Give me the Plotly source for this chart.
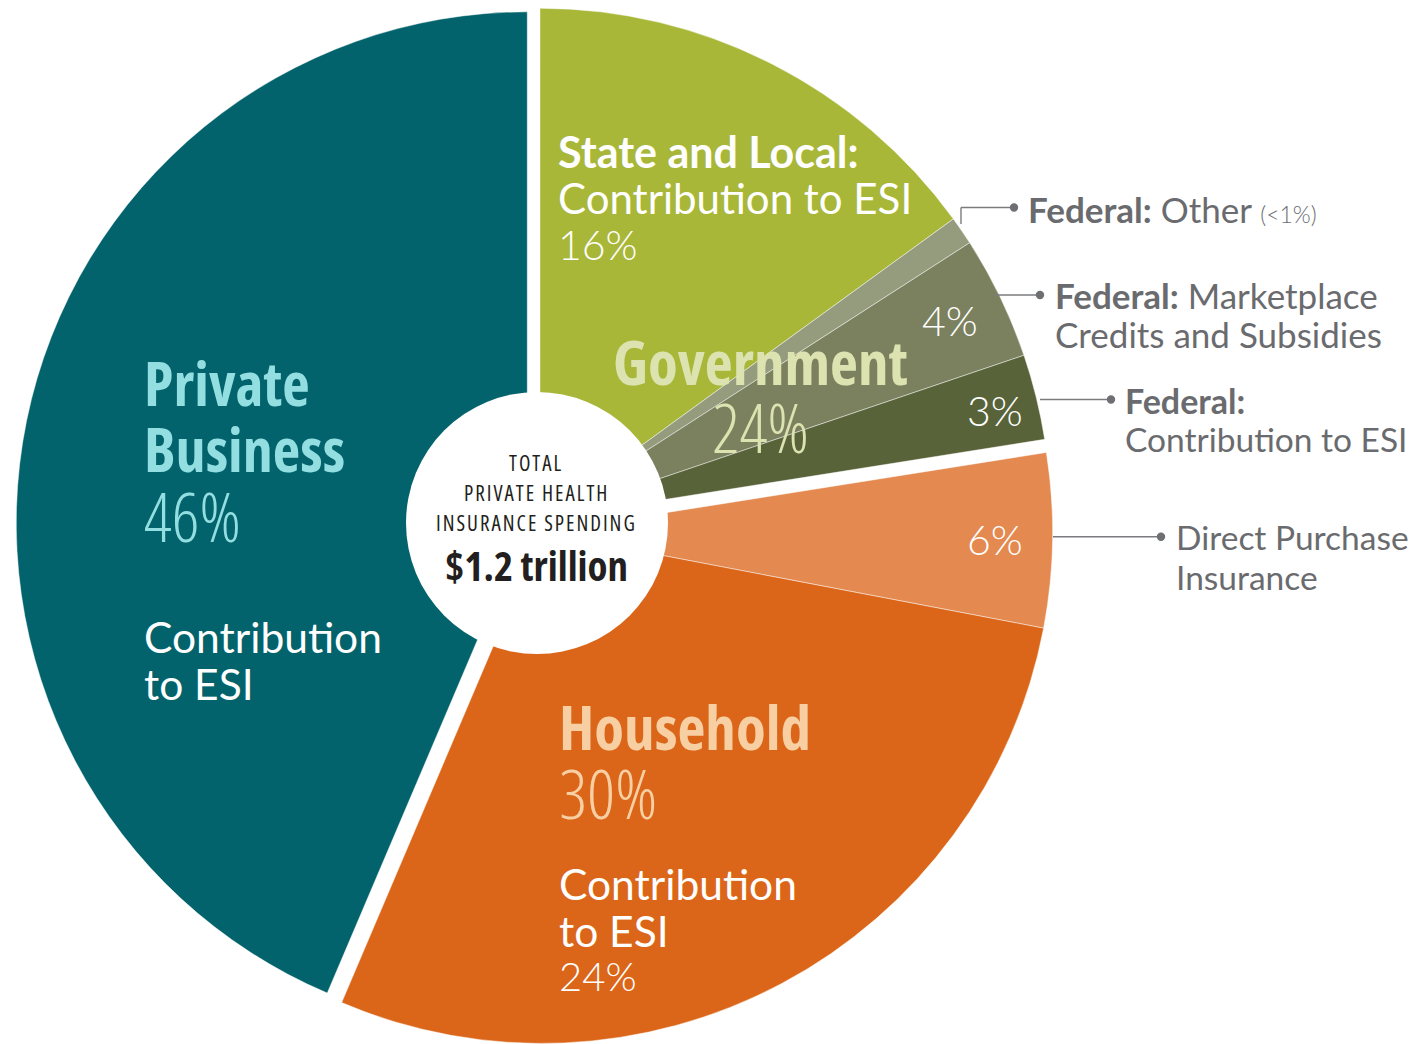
import numpy as np
import plotly.graph_objects as go

# The page body has an 8px margin, so the figure is drawn 8px in from the corner.
OFF = 8
W, H = 1420 - OFF, 1044 - OFF

# ---------------- data (slices clockwise from 12 o'clock) ----------------
slice_names = [
    "State and Local: Contribution to ESI",
    "Federal: Other",
    "Federal: Marketplace Credits and Subsidies",
    "Federal: Contribution to ESI",
    "Direct Purchase Insurance",
    "Household: Contribution to ESI",
    "Private Business: Contribution to ESI",
]
slice_groups = ["Government", "Government", "Government", "Government",
                "Household", "Household", "Private Business"]
# angular share of each wedge as drawn in the graphic
slice_share = [15.0, 0.9, 3.9, 2.7, 5.5, 28.4, 43.6]
slice_colors = ["#A9B739", "#959C7D", "#7B815F", "#58633A",
                "#E48A51", "#DB6619", "#03636C"]
slice_pct_labels = ["16%", "(<1%)", "4%", "3%", "6%", "24%", "46%"]

group_names = ["Government", "Household", "Private Business"]
group_pct_labels = ["24%", "30%", "46%"]

center_lines = ["TOTAL", "PRIVATE HEALTH", "INSURANCE SPENDING"]
center_total = "$1.2 trillion"

# ---------------- styling / geometry (reference pixel coordinates) ----------------
CX, CY, R = 535.5, 524.5, 511.0
explode = {"Government": 6.9, "Household": 10.0, "Private Business": 8.4}
CONDF = "Open Sans, Noto Sans, sans-serif"   # used with font-stretch condensed
HUMF = "Lato, Open Sans, sans-serif"
GRAY = "#6A6B6E"

fig = go.Figure()

share = np.array(slice_share, float)
cum = np.concatenate([[0.0], np.cumsum(share)]) / share.sum() * 360.0
n = len(slice_share)
for g in group_names:
    idx = [i for i in range(n) if slice_groups[i] == g]
    a0, a1 = cum[idx[0]], cum[idx[-1] + 1]
    mid = np.radians((a0 + a1) / 2)
    d = explode[g]
    px = CX + d * np.sin(mid) - OFF
    py = CY - d * np.cos(mid) - OFF
    colors = [slice_colors[i] if slice_groups[i] == g else "rgba(0,0,0,0)" for i in range(n)]
    widths = [1.0 if slice_groups[i] == g else 0 for i in range(n)]
    dx = [max(0.0, (px - R) / W), min(1.0, (px + R) / W)]
    dy = [max(0.0, (H - py - R) / H), min(1.0, (H - py + R) / H)]
    fig.add_trace(go.Pie(
        values=slice_share, labels=slice_names, sort=False,
        direction="clockwise", rotation=0,
        marker=dict(colors=colors, line=dict(color="rgba(255,255,255,0.45)", width=widths)),
        textinfo="none", hoverinfo="skip", showlegend=False,
        domain=dict(x=dx, y=dy),
    ))


def P(x, y):
    return (x - OFF) / W, 1 - (y - OFF) / H


def cond(s, weight=400, extra=""):
    s = s.replace("<", "&lt;")
    return f"<span style='font-stretch:condensed;font-weight:{weight};{extra}'>{s}</span>"


def hum(s, weight=400, extra=""):
    s = s.replace("<", "&lt;")
    return f"<span style='font-weight:{weight};{extra}'>{s}</span>"


def ann(text, x, y, size, color, family, xanchor="left"):
    fx, fy = P(x, y - 0.03 * size)
    fig.add_annotation(x=fx, y=fy, xref="paper", yref="paper", text=text,
                       showarrow=False, xanchor=xanchor, yanchor="middle",
                       font=dict(size=size, color=color, family=family), borderpad=0)


shapes = []
# central white disc
cx0, cy0, cr = 537, 523, 131
x0, y1 = P(cx0 - cr, cy0 - cr)
x1, y0 = P(cx0 + cr, cy0 + cr)
shapes.append(dict(type="circle", xref="paper", yref="paper", x0=x0, x1=x1, y0=y0, y1=y1,
                   fillcolor="white", line=dict(width=0), layer="above"))


def seg(xa, ya, xb, yb):
    ax, ay = P(xa, ya)
    bx, by = P(xb, yb)
    shapes.append(dict(type="line", xref="paper", yref="paper", x0=ax, y0=ay, x1=bx, y1=by,
                       line=dict(color="#7A7B7E", width=1.4), layer="above"))


def dot(x, y, r=4.2):
    ax, ay = P(x - r, y + r)
    bx, by = P(x + r, y - r)
    shapes.append(dict(type="circle", xref="paper", yref="paper", x0=ax, y0=ay, x1=bx, y1=by,
                       fillcolor="#6E6F72", line=dict(width=0), layer="above"))


# leader lines
seg(961, 224, 961, 207.5); seg(961, 207.5, 1014, 207.5); dot(1014, 207.5)
seg(995, 295, 1040, 295); dot(1040, 295)
seg(1040, 399.5, 1111, 399.5); dot(1111, 399.5)
seg(1053, 536.7, 1161, 536.7); dot(1161, 536.7)

fig.update_layout(shapes=shapes)

# ---------------- text ----------------
# center
ann(cond(center_lines[0], 400, "letter-spacing:2px"), 536, 464, 21, "#231F20", CONDF, "center")
ann(cond(center_lines[1], 400, "letter-spacing:2px"), 536, 494, 21, "#231F20", CONDF, "center")
ann(cond(center_lines[2], 400, "letter-spacing:2px"), 536, 524, 21, "#231F20", CONDF, "center")
ann(cond(center_total, 700), 536, 566, 41, "#231F20", CONDF, "center")

# Private Business
ann(cond("Private", 700), 143, 384.5, 60, "#93DEE1", CONDF)
ann(cond("Business", 700), 143, 450.5, 60, "#93DEE1", CONDF)
ann(cond(group_pct_labels[2], 300), 143, 517.5, 68, "#93DEE1", CONDF)
ann(hum("Contribution"), 143, 637.5, 42.5, "white", HUMF)
ann(hum("to ESI"), 143, 685, 42.5, "white", HUMF)

# Household
ann(cond("Household", 700), 558, 728, 61, "#F8CFA2", CONDF)
ann(cond(group_pct_labels[1], 300), 558, 794.5, 69, "#F8CFA2", CONDF)
ann(hum("Contribution"), 558, 885, 42.5, "white", HUMF)
ann(hum("to ESI"), 558, 932, 42.5, "white", HUMF)
ann(hum(slice_pct_labels[5], 300), 558, 977, 40, "white", HUMF)

# Government
ann(cond("Government", 700), 760, 363, 61, "#DCE3B0", CONDF, "center")
ann(cond(group_pct_labels[0], 300), 760, 429, 68, "#DCE3B0", CONDF, "center")

# State and Local
ann(hum("State and Local:", 700), 557, 152.5, 43, "white", HUMF)
ann(hum("Contribution to ESI"), 557, 199, 42, "white", HUMF)
ann(hum(slice_pct_labels[0], 300), 557, 246, 41, "white", HUMF)

# small wedge percents
ann(hum(slice_pct_labels[2], 300), 950, 322, 41, "white", HUMF, "center")
ann(hum(slice_pct_labels[3], 300), 995, 412, 41, "white", HUMF, "center")
ann(hum(slice_pct_labels[4], 300), 995, 541, 41, "white", HUMF, "center")

# right-hand labels
ann(hum("Federal:", 700) + hum(" Other ") + hum(slice_pct_labels[1], 300, "font-size:23px"),
    1027, 210, 35, GRAY, HUMF)
ann(hum("Federal:", 700) + hum(" Marketplace"), 1054, 296, 35, GRAY, HUMF)
ann(hum("Credits and Subsidies"), 1054, 335, 35, GRAY, HUMF)
ann(hum("Federal:", 700), 1124, 401.5, 34, GRAY, HUMF)
ann(hum("Contribution to ESI"), 1124, 440, 33.5, GRAY, HUMF)
ann(hum("Direct Purchase"), 1175, 538, 33.5, GRAY, HUMF)
ann(hum("Insurance"), 1175, 578, 33.5, GRAY, HUMF)

fig.update_layout(width=W, height=H, margin=dict(l=0, r=0, t=0, b=0),
                  paper_bgcolor="white", plot_bgcolor="white")
fig.write_html("out.html")
